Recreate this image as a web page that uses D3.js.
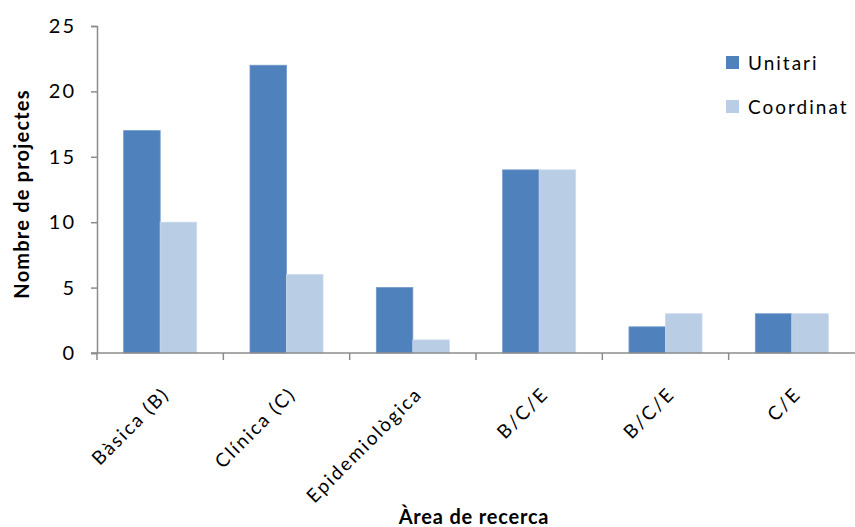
<!DOCTYPE html>
<html><head><meta charset="utf-8">
<script src="https://cdn.jsdelivr.net/npm/d3@7"></script>
<style>body{margin:0;background:#fff}svg{display:block}text{font-family:Lato,"Open Sans",sans-serif}</style>
</head><body><svg id="c" width="855" height="527"></svg>
<script>
const categories = ["Bàsica (B)", "Clínica (C)", "Epidemiològica", "B/C/E", "B/C/E", "C/E"];
const seriesNames = ["Unitari", "Coordinat"];
const unitari = [17, 22, 5, 14, 2, 3];
const coordinat = [10, 6, 1, 14, 3, 3];
const yTicks = [0, 5, 10, 15, 20, 25];
const colors = ["#4F81BD", "#B9CDE5"];

(function () {
const svg = d3.select("#c");
const mLeft = 97, mRight = 855, mTop = 26, mBottom = 353;
const x = d3.scaleBand().domain(d3.range(categories.length)).range([mLeft, mRight]);
const inner = d3.scaleBand().domain([0, 1]).range([0, x.bandwidth()]).paddingOuter(0.73).paddingInner(0);
const y = d3.scaleLinear().domain([0, 25]).range([mBottom, mTop]);
const axisColor = "#8c8c8c";
const fs = 19, ls = 2;

// bars
const data = [unitari, coordinat];
data.forEach((vals, s) => {
  svg.append("g").selectAll("rect").data(vals).enter().append("rect")
    .attr("x", (d, i) => x(i) + inner(s))
    .attr("y", d => y(d))
    .attr("width", inner.bandwidth())
    .attr("height", d => mBottom - y(d))
    .attr("fill", colors[s])
    .attr("stroke", s === 0 ? "#6f97c9" : "#c9d9ec")
    .attr("stroke-width", 0.8);
});

// y axis
const ya = svg.append("g").attr("transform", `translate(${mLeft},0)`)
  .call(d3.axisLeft(y).tickValues(yTicks).tickSize(6).tickPadding(15));
ya.select(".domain").attr("stroke", axisColor).attr("stroke-width", 1.5);
ya.selectAll(".tick line").attr("stroke", axisColor).attr("stroke-width", 1.5);
ya.selectAll(".tick text").attr("font-size", 20).attr("letter-spacing", ls).attr("fill", "#000").style("font-family", "Lato");

// x axis
const xa = svg.append("g").attr("transform", `translate(0,${mBottom})`);
xa.append("line").attr("x1", mLeft - 6).attr("x2", mRight).attr("y1", 0).attr("y2", 0)
  .attr("stroke", axisColor).attr("stroke-width", 1.5);
xa.selectAll("line.t").data(d3.range(categories.length)).enter().append("line")
  .attr("class", "t")
  .attr("x1", i => x(i)).attr("x2", i => x(i))
  .attr("y1", 0).attr("y2", 7).attr("stroke", axisColor).attr("stroke-width", 1.5);
xa.selectAll("text").data(categories).enter().append("text")
  .attr("transform", (d, i) => `translate(${x(i) + x.bandwidth() / 2 + 1},${33}) rotate(-45)`)
  .attr("text-anchor", "end").attr("dy", "0.7em")
  .attr("font-size", fs).attr("letter-spacing", ls).attr("fill", "#000")
  .text(d => d);

// axis titles
svg.append("text").attr("transform", "translate(29,194) rotate(-90)")
  .attr("text-anchor", "middle").attr("font-size", 20).attr("letter-spacing", 1.2).attr("font-weight", "bold")
  .text("Nombre de projectes");
svg.append("text").attr("x", 474).attr("y", 524)
  .attr("text-anchor", "middle").attr("font-size", 20).attr("letter-spacing", 0.8).attr("font-weight", "bold")
  .text("Àrea de recerca");

// legend
const lg = svg.append("g");
seriesNames.forEach((n, i) => {
  lg.append("rect").attr("x", 726).attr("y", 56 + i * 44).attr("width", 13).attr("height", 13).attr("fill", colors[i]);
  lg.append("text").attr("x", 748).attr("y", 70 + i * 44).attr("font-size", fs).attr("letter-spacing", ls).text(n);
});
})();
</script></body></html>
